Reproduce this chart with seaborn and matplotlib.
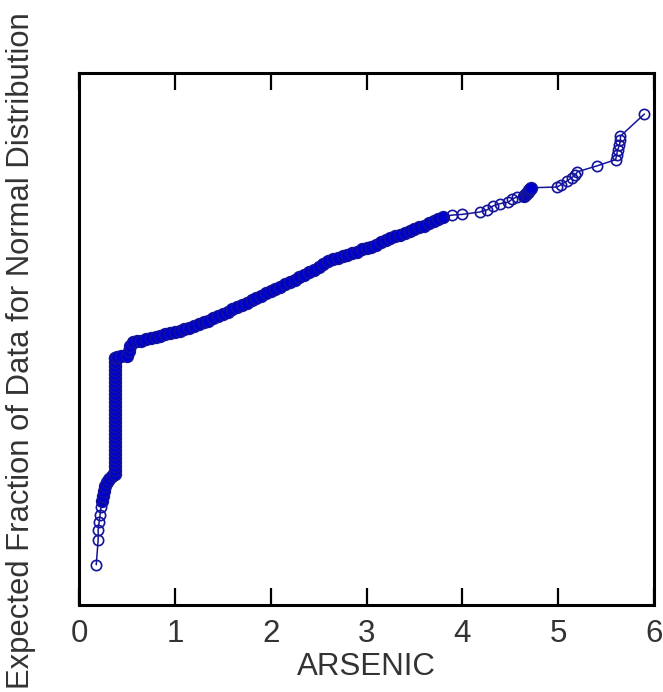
import matplotlib
matplotlib.use("Agg")
import matplotlib.pyplot as plt
import seaborn as sns
import numpy as np

# ---- data (ARSENIC value, normal score of its plotting position) ----
low_tail_x = [0.18, 0.20, 0.20, 0.21, 0.22, 0.23]
low_tail_y = [-2.97, -2.64, -2.51, -2.41, -2.32, -2.21]

band_x = [0.24, 0.25, 0.26, 0.27, 0.29, 0.31, 0.34, 0.38,
          0.38, 0.38, 0.38, 0.38, 0.38, 0.38, 0.38, 0.38, 0.38, 0.38,
          0.38, 0.38, 0.38, 0.38, 0.38, 0.38, 0.38, 0.38, 0.38, 0.38,
          0.38, 0.38, 0.38, 0.38, 0.38, 0.38, 0.38, 0.38, 0.38, 0.38,
          0.40, 0.44, 0.50, 0.52, 0.53, 0.56,
          0.60, 0.65, 0.70, 0.75, 0.80, 0.85, 0.90, 0.95, 1.00, 1.05,
          1.10, 1.15, 1.20, 1.25, 1.30, 1.35, 1.40, 1.45, 1.50, 1.55,
          1.60, 1.65, 1.70, 1.75, 1.80, 1.85, 1.90, 1.95, 2.00, 2.05,
          2.10, 2.15, 2.20, 2.25, 2.30, 2.35, 2.40, 2.45, 2.50, 2.55,
          2.60, 2.65, 2.70, 2.75, 2.80, 2.85, 2.90, 2.95, 3.00, 3.05,
          3.10, 3.15, 3.20, 3.25, 3.30, 3.35, 3.40, 3.45, 3.50, 3.55,
          3.60, 3.65, 3.70, 3.75, 3.80]
band_y = [-2.13, -2.07, -2.00, -1.93, -1.88, -1.84, -1.80, -1.78,
          -1.72, -1.67, -1.62, -1.57, -1.51, -1.46, -1.41, -1.36, -1.30, -1.25,
          -1.20, -1.14, -1.09, -1.04, -0.99, -0.93, -0.88, -0.83, -0.78, -0.72,
          -0.67, -0.62, -0.57, -0.51, -0.46, -0.41, -0.36, -0.30, -0.25, -0.25,
          -0.24, -0.22, -0.22, -0.16, -0.09, -0.04,
          -0.03, -0.02, 0.00, 0.01, 0.03, 0.04, 0.06, 0.08, 0.09, 0.11,
          0.13, 0.15, 0.17, 0.20, 0.22, 0.24, 0.27, 0.30, 0.33, 0.36,
          0.39, 0.42, 0.45, 0.48, 0.51, 0.54, 0.57, 0.60, 0.63, 0.66,
          0.69, 0.72, 0.75, 0.78, 0.81, 0.84, 0.88, 0.91, 0.95, 0.99,
          1.02, 1.05, 1.07, 1.09, 1.11, 1.13, 1.15, 1.18, 1.20, 1.21,
          1.24, 1.27, 1.30, 1.33, 1.35, 1.37, 1.39, 1.42, 1.45, 1.47,
          1.49, 1.52, 1.55, 1.58, 1.61]

upper_x = [3.89, 4.00, 4.18, 4.26, 4.32, 4.39, 4.48, 4.52, 4.57]
upper_y = [1.63, 1.64, 1.67, 1.70, 1.75, 1.78, 1.80, 1.84, 1.87]

blob_x = [4.64, 4.66, 4.69, 4.70, 4.71, 4.72]
blob_y = [1.88, 1.91, 1.93, 1.96, 1.97, 1.99]

top_x = [4.99, 5.03, 5.09, 5.14, 5.18, 5.20, 5.41, 5.60, 5.61, 5.62, 5.64, 5.65, 5.65, 5.90]
top_y = [2.00, 2.03, 2.08, 2.12, 2.16, 2.20, 2.28, 2.36, 2.42, 2.49, 2.55, 2.62, 2.67, 2.96]

x_ticks = [0, 1, 2, 3, 4, 5, 6]
x_label = "ARSENIC"
y_label = "Expected Fraction of Data for Normal Distribution"

# ---- style ----
BLUE = "#0000cc"
EDGE = "#14149a"

sns.set_theme(style="white")
plt.rcParams["font.family"] = ["Liberation Sans", "DejaVu Sans"]

fig = plt.figure(figsize=(6.63, 6.92), dpi=100)
ax = fig.add_axes([79 / 663, 1 - 605 / 692, 575 / 663, 532 / 692])

all_x = low_tail_x + band_x + upper_x + blob_x + top_x
all_y = low_tail_y + band_y + upper_y + blob_y + top_y

# connecting line in rank order
sns.lineplot(x=all_x, y=all_y, sort=False, estimator=None, ax=ax,
             color=EDGE, linewidth=1.1)

# dense parts: overlapping circles read as a solid band
for xs, ys in [(band_x, band_y), (blob_x, blob_y)]:
    sns.lineplot(x=xs, y=ys, sort=False, estimator=None, ax=ax,
                 linestyle="none", marker="o", markersize=8.6,
                 markerfacecolor=BLUE, markeredgecolor=EDGE, markeredgewidth=1.0,
                 color=BLUE)

# sparse parts: open circles
for xs, ys in [(low_tail_x, low_tail_y), (upper_x, upper_y), (top_x, top_y)]:
    sns.lineplot(x=xs, y=ys, sort=False, estimator=None, ax=ax,
                 linestyle="none", marker="o", markersize=7.4,
                 markerfacecolor="none", markeredgecolor=EDGE, markeredgewidth=1.2,
                 color=EDGE)

ax.set_xlim(0, 6)
ax.set_ylim(-3.5, 3.5)
ax.set_xticks(x_ticks)
ax.set_xticklabels([str(t) for t in x_ticks])
ax.set_yticks([])

for s in ax.spines.values():
    s.set_visible(True)
    s.set_color("black")
    s.set_linewidth(2.2)

ax.tick_params(axis="x", direction="in", length=12, width=1.6, color="black",
               top=True, bottom=True, labelsize=22.5, pad=10, labelcolor="#333333")
ax.set_xlabel(x_label, fontsize=22.5, color="#333333", labelpad=2)
ax.set_ylabel("")
fig.text(21 / 663, 1 - 351 / 692, y_label, rotation=90, ha="center", va="center",
         fontsize=22.3, color="#333333")

fig.savefig("out.png", dpi=100)
